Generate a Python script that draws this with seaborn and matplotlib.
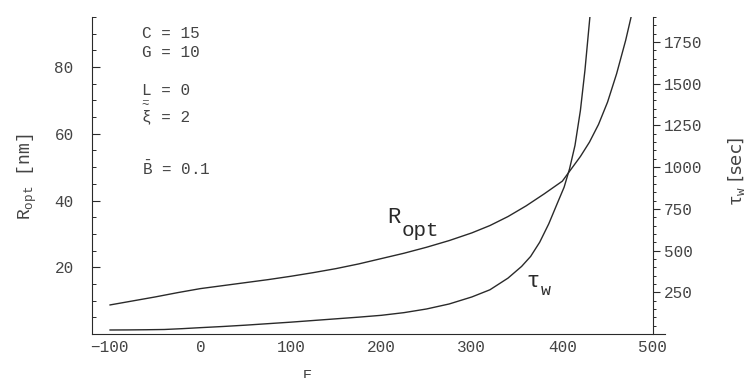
import matplotlib
matplotlib.use("Agg")
import matplotlib.pyplot as plt
from matplotlib.ticker import MultipleLocator
import pandas as pd
import seaborn as sns

# Optimal radius R_opt [nm] versus E
e_r = [-100, -75, -50, -25, 0, 25, 50, 75, 100, 125, 150, 175, 200, 225, 250, 275,
       300, 320, 340, 360, 380, 400, 410, 420, 430, 440, 450, 460, 470, 476]
r_opt = [8.7, 9.9, 11.1, 12.4, 13.6, 14.5, 15.4, 16.3, 17.3, 18.4, 19.6, 21.0, 22.6,
         24.2, 26.0, 28.0, 30.3, 32.5, 35.2, 38.4, 42.0, 45.8, 49.5, 53.2, 57.5,
         62.8, 69.5, 78.0, 88.0, 95.0]

# Waiting time tau_w [sec] versus E
e_t = [-100, -80, -60, -40, -20, 0, 25, 50, 75, 100, 125, 150, 175, 200, 225, 250,
       275, 300, 320, 340, 355, 365, 375, 385, 395, 402, 408, 414, 420, 425, 431]
tau_w = [24, 24.5, 25.5, 27, 32, 38, 45, 53, 62, 71, 81, 91, 101, 112, 128, 150,
         180, 222, 265, 335, 405, 465, 550, 660, 790, 880, 990, 1130, 1340, 1580, 1930]

x_ticks = [-100, 0, 100, 200, 300, 400, 500]
left_ticks = [20, 40, 60, 80]
right_ticks = [250, 500, 750, 1000, 1250, 1500, 1750]

sns.set_style("white")
mono = "Liberation Mono"
plt.rcParams["font.family"] = [mono, "DejaVu Sans"]
plt.rcParams["mathtext.fontset"] = "custom"
plt.rcParams["mathtext.rm"] = mono
plt.rcParams["mathtext.it"] = mono
ink = "#2a2a2a"
label_c = "#444444"

fig = plt.figure(figsize=(7.5, 3.78), dpi=100)
ax = fig.add_axes([0.1223, 0.1164, 0.765, 0.8386])
ax2 = ax.twinx()

df_r = pd.DataFrame({"E": e_r, "R": r_opt})
df_t = pd.DataFrame({"E": e_t, "tau": tau_w})
sns.lineplot(data=df_r, x="E", y="R", ax=ax, color=ink, lw=1.0)
sns.lineplot(data=df_t, x="E", y="tau", ax=ax2, color=ink, lw=1.0)

ax.set_xlim(-120, 514)
ax.set_ylim(0, 95)
ax2.set_ylim(0, 1900)

for a in (ax, ax2):
    a.set_xlabel("")
    a.set_ylabel("")
    for s in ("top", "left", "right", "bottom"):
        a.spines[s].set_visible(False)
    a.set_facecolor("none")

ax.spines["left"].set_visible(True)
ax.spines["bottom"].set_visible(True)
ax.spines["left"].set_color(ink)
ax.spines["bottom"].set_color(ink)
ax2.spines["right"].set_visible(True)
ax2.spines["right"].set_color(ink)
ax2.spines["right"].set_position(("data", 500))

ax.set_xticks(x_ticks)
ax.xaxis.set_minor_locator(MultipleLocator(20))
ax.set_yticks(left_ticks)
ax.yaxis.set_minor_locator(MultipleLocator(5))
ax2.set_yticks(right_ticks)
ax2.yaxis.set_minor_locator(MultipleLocator(50))

tick_fs = 11.5
ax.tick_params(axis="x", which="major", direction="in", length=6, width=0.8,
               color=ink, labelsize=tick_fs, labelcolor=label_c, pad=4)
ax.tick_params(axis="x", which="minor", direction="in", length=3, width=0.7, color=ink)
ax.tick_params(axis="y", which="major", direction="in", length=6, width=0.8,
               color=ink, labelsize=tick_fs, labelcolor=label_c, pad=13)
ax.tick_params(axis="y", which="minor", direction="in", length=3, width=0.7, color=ink)
ax2.tick_params(axis="y", which="major", direction="out", length=5, width=0.8,
                color=ink, labelsize=tick_fs, labelcolor=label_c, pad=3)
ax2.tick_params(axis="y", which="minor", direction="out", length=2.5, width=0.7, color=ink)

# Axis titles
fig.text(0.036, 0.532, r"R$_{\rm opt}$ [nm]", rotation=90, ha="center", va="center",
         fontsize=13, color=label_c)
fig.text(0.982, 0.547, r"$\tau_{\rm w}$ [sec]", rotation=90, ha="center", va="center",
         fontsize=13, color=label_c, family=["DejaVu Sans"])
fig.text(0.41, 0.004, "E", ha="center", va="center", fontsize=11, color=label_c)

# Parameter block
tx = 0.190
fs = 11.5
fig.text(tx, 0.912, "C = 15", fontsize=fs, color=label_c, va="center")
fig.text(tx, 0.860, "G = 10", fontsize=fs, color=label_c, va="center")
fig.text(tx, 0.761, "L = 0", fontsize=fs, color=label_c, va="center")
fig.text(tx, 0.744, "_", fontsize=7, color=label_c, va="center")
fig.text(tx, 0.690, "\u03be = 2", fontsize=fs, color=label_c, va="center")
fig.text(tx - 0.001, 0.722, "~", fontsize=9, color=label_c, va="center")
fig.text(tx, 0.553, r"$\bar{B}$ = 0.1", fontsize=fs, color=label_c, va="center")

# Curve labels: large letter with a lowered suffix
ax.text(207, 38.0, "R", fontsize=16, color=ink, va="top")
ax.text(222, 34.0, "opt", fontsize=15, color=ink, va="top")
ax2.text(360, 375, "\u03c4", fontsize=16, color=ink, va="top")
ax2.text(376, 305, "w", fontsize=12, color=ink, va="top")

fig.savefig("out.png", dpi=100)
